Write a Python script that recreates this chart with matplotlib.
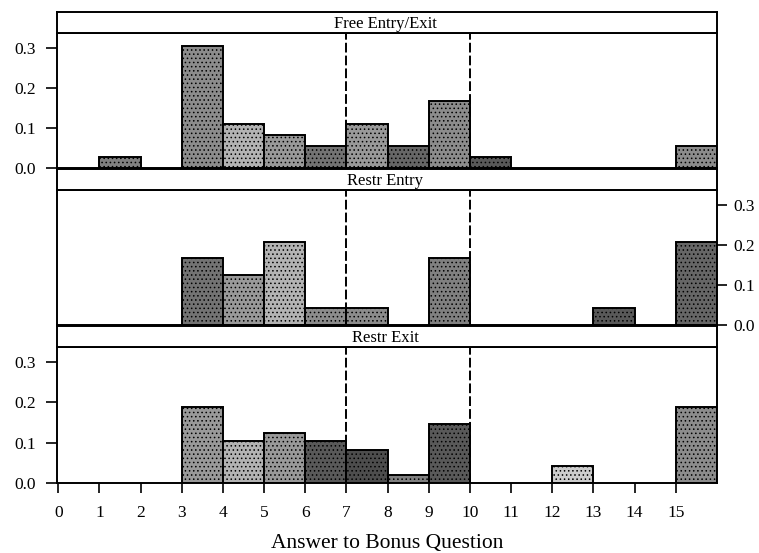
import matplotlib.pyplot as plt
import numpy as np

# Histogram of answers (share of subjects per integer bin), one panel per treatment
bin_edges = list(range(0, 17))
panel_titles = ["Free Entry/Exit", "Restr Entry", "Restr Exit"]

free_entry_exit = [0.0, 0.028, 0.0, 0.306, 0.111, 0.083, 0.056, 0.111,
                   0.056, 0.167, 0.028, 0.0, 0.0, 0.0, 0.0, 0.056]
restr_entry = [0.0, 0.0, 0.0, 0.167, 0.125, 0.208, 0.042, 0.042,
               0.0, 0.167, 0.0, 0.0, 0.0, 0.042, 0.0, 0.208]
restr_exit = [0.0, 0.0, 0.0, 0.188, 0.104, 0.125, 0.104, 0.083,
              0.021, 0.146, 0.0, 0.0, 0.042, 0.0, 0.0, 0.188]

y_ticks = [0.0, 0.1, 0.2, 0.3]
x_ticks = list(range(0, 16))
ref_lines = [7, 10]
x_label = "Answer to Bonus Question"

# grey level of each bar's stipple (0 = black, 1 = white)
shades = [
    [1, 0.50, 1, 0.55, 0.70, 0.60, 0.45, 0.60, 0.40, 0.55, 0.35, 1, 1, 1, 1, 0.55],
    [1, 1, 1, 0.45, 0.60, 0.70, 0.55, 0.55, 1, 0.50, 1, 1, 1, 0.35, 1, 0.40],
    [1, 1, 1, 0.60, 0.70, 0.60, 0.35, 0.30, 0.50, 0.35, 1, 1, 0.80, 1, 1, 0.55],
]

plt.rcParams["font.family"] = ["Liberation Serif", "DejaVu Serif"]
plt.rcParams["hatch.linewidth"] = 0.6
plt.rcParams["hatch.color"] = "#202020"

W, H = 759, 553
fig = plt.figure(figsize=(W / 100, H / 100), dpi=100)

left, right = 57 / W, 717 / W
# (plot top, plot bottom) in pixels from the top edge
panel_px = [(33, 168), (190, 325), (347, 483)]
strip_h = 21

series = [free_entry_exit, restr_entry, restr_exit]
for i, (title, values) in enumerate(zip(panel_titles, series)):
    top_px, bot_px = panel_px[i]
    ax = fig.add_axes([left, 1 - bot_px / H, right - left, (bot_px - top_px) / H])
    ax.set_xlim(-0.03, 16)
    ax.set_ylim(0, 0.3375)

    for x in ref_lines:
        ax.axvline(x, color="black", lw=1.4, ls=(0, (5, 1.6)), zorder=1)

    lefts = [e for e, v in zip(bin_edges[:-1], values) if v > 0]
    heights = [v for v in values if v > 0]
    colors = [str(s) for s, v in zip(shades[i], values) if v > 0]
    ax.bar(lefts, heights, width=1, align="edge", color=colors,
           edgecolor="black", linewidth=1.4, hatch="....", zorder=2)

    for sp in ax.spines.values():
        sp.set_linewidth(1.4)

    ax.set_yticks(y_ticks)
    ax.set_yticklabels([f"{t:.1f}" for t in y_ticks])
    ax.tick_params(axis="y", direction="out", length=8, width=1.2,
                   labelsize=12.5, pad=7)
    if i == 1:
        ax.yaxis.tick_right()
        ax.tick_params(axis="y", length=7, pad=5)
    if i == 2:
        ax.set_xticks(x_ticks)
        ax.tick_params(axis="x", direction="out", length=7, width=1.2,
                       labelsize=12.5, pad=9)
        ax.set_xlabel(x_label, fontsize=15.5, labelpad=9)
    else:
        ax.set_xticks([])

    # strip with the treatment name above the panel
    sax = fig.add_axes([left, 1 - top_px / H, right - left, strip_h / H])
    sax.set_xticks([])
    sax.set_yticks([])
    for sp in sax.spines.values():
        sp.set_linewidth(1.4)
    sax.text(0.497, 0.45, title, ha="center", va="center", fontsize=12,
             transform=sax.transAxes)

fig.savefig("out.png", dpi=100)
